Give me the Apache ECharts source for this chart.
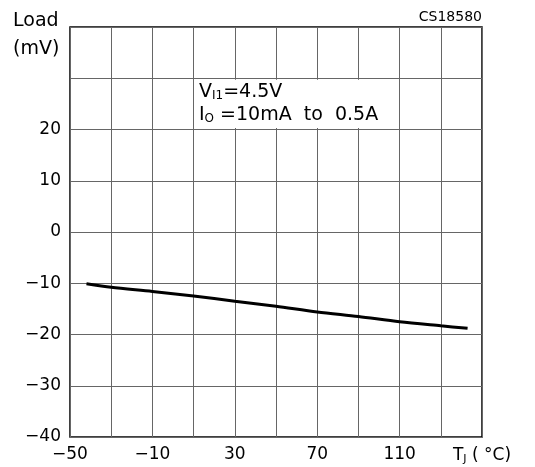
<!DOCTYPE html>
<html>
<head>
<meta charset="utf-8">
<script src="https://cdn.jsdelivr.net/npm/echarts@6/dist/echarts.min.js"></script>
<style>
  html, body { margin: 0; padding: 0; background: #fff; }
  #chart { width: 535px; height: 467px; }
</style>
</head>
<body>
<div id="chart"></div>
<script>
// junction temperature (°C) and load regulation (mV)
var tempC = [-42, -30, -10, 10, 30, 50, 70, 90, 110, 130, 143];
var loadMv = [-10.1, -10.8, -11.6, -12.5, -13.5, -14.5, -15.6, -16.5, -17.5, -18.3, -18.8];
var xTickLabels = [-50, -10, 30, 70, 110];
var yTickLabels = [-40, -30, -20, -10, 0, 10, 20];

var FONT = 'DejaVu Sans';
var chart = echarts.init(document.getElementById('chart'));

var points = [];
for (var i = 0; i < tempC.length; i++) {
  points.push([tempC[i], loadMv[i]]);
}

function fmtNum(v) {
  return v < 0 ? '\u2212' + Math.abs(v) : String(v);
}

var option = {
  animation: false,
  backgroundColor: '#fff',
  grid: {
    left: 70, top: 27, width: 412, height: 410,
    show: true, borderColor: '#000', borderWidth: 1.5
  },
  xAxis: {
    type: 'value', min: -50, max: 150, interval: 20,
    axisLine: { show: false },
    axisTick: { show: false },
    splitLine: { lineStyle: { color: '#666', width: 1 } },
    axisLabel: {
      margin: 9,
      color: '#000',
      fontFamily: FONT,
      fontSize: 17,
      showMaxLabel: true,
      formatter: function (v) {
        if (v === 150) return '{t|T}{s|J}{t| ( °C)}';
        return xTickLabels.indexOf(v) >= 0 ? fmtNum(v) : '';
      },
      rich: {
        t: { fontFamily: FONT, fontSize: 17, color: '#000' },
        s: { fontFamily: FONT, fontSize: 11, color: '#000', padding: [8, 0, 0, 0] }
      }
    }
  },
  yAxis: {
    type: 'value', min: -40, max: 40, interval: 10,
    axisLine: { show: false },
    axisTick: { show: false },
    splitLine: { lineStyle: { color: '#666', width: 1 } },
    axisLabel: {
      margin: 9,
      color: '#000',
      fontFamily: FONT,
      fontSize: 17,
      formatter: function (v) {
        return yTickLabels.indexOf(v) >= 0 ? fmtNum(v) : '';
      }
    }
  },
  graphic: [
    {
      type: 'text', left: 13, top: 7,
      style: {
        text: 'Load\n(mV)', fill: '#000',
        font: '19px "DejaVu Sans"', lineHeight: 28
      }
    },
    {
      type: 'text', right: 53, top: 10,
      style: { text: 'CS18580', fill: '#000', font: '14px "DejaVu Sans"' }
    },
    {
      type: 'text', left: 199, top: 82, z: 10,
      style: {
        text: '{n|V}{s|I1}{n|=4.5V}\n{n|I}{s|O}{n| =10mA  to  0.5A}',
        fill: '#000',
        rich: {
          n: { fontFamily: FONT, fontSize: 19, lineHeight: 23, fill: '#000' },
          s: { fontFamily: FONT, fontSize: 12, lineHeight: 23, fill: '#000', padding: [8, 0, 0, 0] }
        }
      }
    }
  ],
  series: [
    {
      type: 'line',
      data: points,
      symbol: 'none',
      smooth: 0.3,
      lineStyle: { color: '#000', width: 3 },
      markArea: {
        silent: true,
        itemStyle: { color: '#fff' },
        data: [[{ coord: [10.4, 29.7] }, { coord: [109.6, 20.3] }]]
      }
    }
  ]
};

chart.setOption(option);
</script>
</body>
</html>
